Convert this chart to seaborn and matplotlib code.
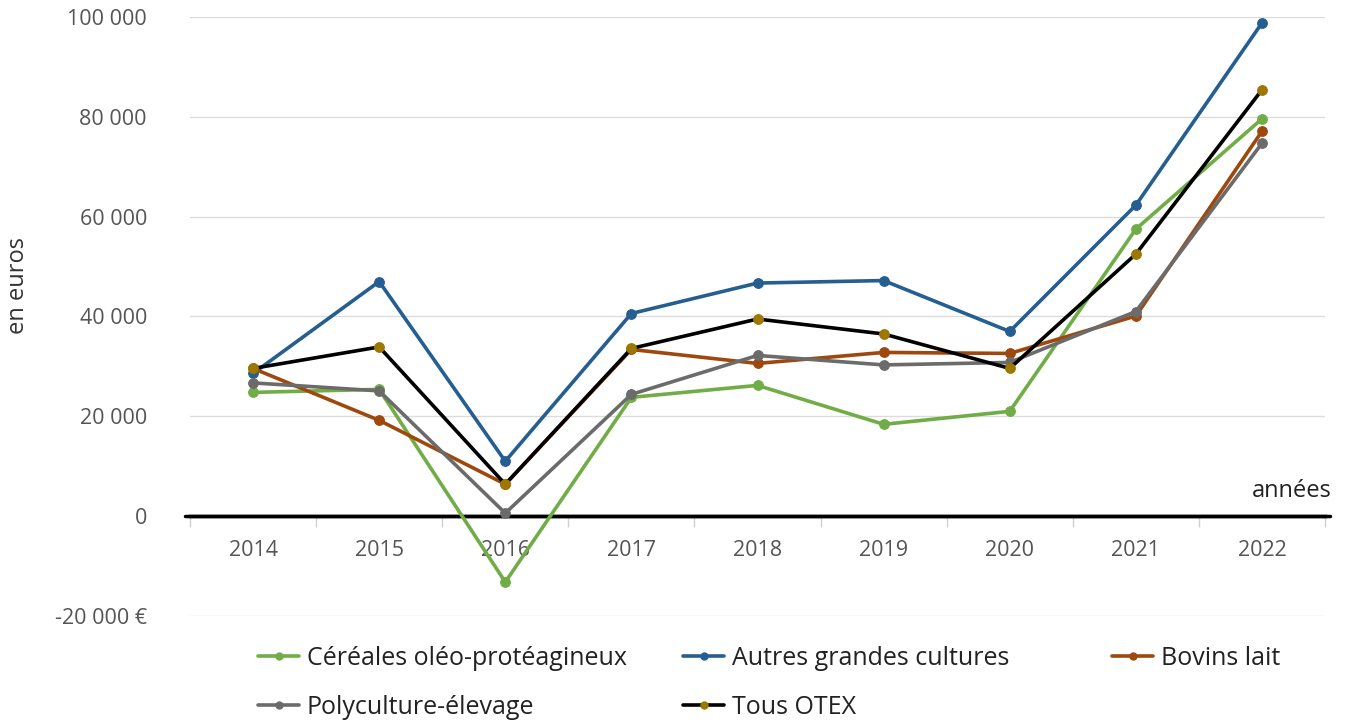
import numpy as np
import pandas as pd
import seaborn as sns
import matplotlib.pyplot as plt
from matplotlib.lines import Line2D

# values (euros)
years = ['2014', '2015', '2016', '2017', '2018', '2019', '2020', '2021', '2022']
cereales = [24800, 25400, -13200, 23800, 26200, 18400, 21000, 57500, 79600]
autres = [28600, 47000, 11000, 40600, 46700, 47200, 37000, 62300, 98800]
bovins = [29600, 19200, 6400, 33400, 30600, 32800, 32600, 40100, 77100]
polyculture = [26700, 25100, 600, 24400, 32200, 30300, 30800, 41000, 74700]
tous_otex = [29600, 33900, 6400, 33600, 39500, 36500, 29600, 52500, 85400]

yticks = [-20000, 0, 20000, 40000, 60000, 80000, 100000]
ytick_labels = ['-20 000 €', '0', '20 000', '40 000', '60 000', '80 000', '100 000']

sns.set_theme(style='white')
plt.rcParams['font.family'] = ['Open Sans', 'DejaVu Sans']

W, H = 1348, 722
fig = plt.figure(figsize=(W / 100, H / 100), dpi=100)
ax = fig.add_axes([190 / W, 1 - 616 / H, (1325 - 190) / W, (616 - 17) / H])

x = np.arange(len(years))
series = [
    ('Céréales oléo-protéagineux', cereales, '#70AD47', '#70AD47'),
    ('Autres grandes cultures', autres, '#255E91', '#255E91'),
    ('Bovins lait', bovins, '#9E480E', '#9E480E'),
    ('Polyculture-élevage', polyculture, '#6B6B6B', '#6B6B6B'),
    ('Tous OTEX', tous_otex, '#000000', '#9C7800'),
]

handles = {}
for name, vals, lc, mc in series:
    df = pd.DataFrame({'x': x, 'y': vals})
    sns.lineplot(data=df, x='x', y='y', ax=ax, color=lc, linewidth=2.6,
                 marker='o', markersize=7, markerfacecolor=mc, markeredgecolor=mc,
                 sort=False, clip_on=False)
    handles[name] = Line2D([], [], color=lc, linewidth=2.6, marker='o', markersize=5,
                           markerfacecolor=mc, markeredgecolor=mc)

ax.set_xlim(-0.5, len(years) - 0.5)
ax.set_ylim(-20000, 100000)
ax.set_yticks(yticks)
ax.set_yticklabels(ytick_labels)
ax.tick_params(axis='y', length=0, pad=31, labelsize=15.5, labelcolor='#555555')
ax.yaxis.grid(True, color='#dcdcdc', linewidth=1)
ax.set_axisbelow(True)

for s in ['top', 'right', 'left']:
    ax.spines[s].set_visible(False)
ax.spines['bottom'].set_position(('data', 0))
ax.spines['bottom'].set_color('black')
ax.spines['bottom'].set_linewidth(2.5)
ax.spines['bottom'].set_zorder(1.5)
ax.axhline(0, xmin=-0.004, xmax=1.004, color='black', linewidth=2.5, clip_on=False, zorder=1.5)

ax.set_xticks(x)
ax.set_xticklabels(years)
ax.set_xticks(np.arange(len(years) + 1) - 0.5, minor=True)
ax.tick_params(axis='x', which='major', length=0, pad=17, labelsize=15.5, labelcolor='#555555')
ax.tick_params(axis='x', which='minor', length=8, width=1, color='#d0d0d0', direction='out', bottom=True)

ax.set_xlabel('')
ax.set_ylabel('')
fig.text(18 / W, 1 - 285 / H, 'en euros', rotation=90, ha='center', va='center',
         fontsize=17, color='#333333')
fig.text(1332 / W, 1 - 491 / H, 'années', ha='right', va='center', fontsize=17, color='#222222')

# legend placed column by column as in the original
cols = [
    (258, ['Céréales oléo-protéagineux', 'Polyculture-élevage']),
    (683, ['Autres grandes cultures', 'Tous OTEX']),
    (1112, ['Bovins lait']),
]
for xpix, names in cols:
    leg = fig.legend([handles[n] for n in names], names, loc='upper left',
                     bbox_to_anchor=(xpix / W, 1 - 646 / H), frameon=False,
                     fontsize=18, handlelength=1.65, handletextpad=0.3,
                     labelspacing=0.95, borderpad=0, borderaxespad=0)
    for t in leg.get_texts():
        t.set_color('#222222')

fig.savefig('out.png', dpi=100)
